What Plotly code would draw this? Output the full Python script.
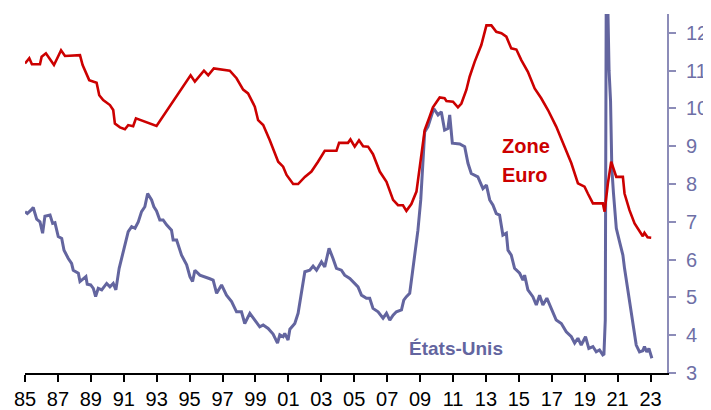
import plotly.graph_objects as go

# Zone Euro unemployment rate (%)
euro_years = [1985.00, 1985.26, 1985.42, 1985.91, 1986.01, 1986.27, 1986.52, 1986.76, 1986.96, 1987.19,
              1987.43, 1988.34, 1988.50, 1988.70, 1988.90, 1989.35, 1989.51, 1989.75, 1990.16, 1990.36,
              1990.46, 1990.77, 1991.07, 1991.27, 1991.57, 1991.74, 1992.99, 1995.06, 1995.32, 1995.87,
              1996.13, 1996.47, 1997.44, 1997.85, 1998.25, 1998.55, 1998.96, 1999.16, 1999.47, 1999.87,
              2000.38, 2000.68, 2000.89, 2001.29, 2001.59, 2002.00, 2002.40, 2002.80, 2003.21, 2003.92,
              2004.08, 2004.62, 2004.77, 2005.03, 2005.29, 2005.54, 2005.84, 2006.14, 2006.55, 2006.96,
              2007.36, 2007.66, 2007.96, 2008.17, 2008.47, 2008.78, 2009.02, 2009.28, 2009.58, 2009.78,
              2010.19, 2010.49, 2010.60, 2011.00, 2011.30, 2011.51, 2011.81, 2012.01, 2012.32, 2012.72,
              2013.03, 2013.33, 2013.63, 2013.94, 2014.24, 2014.54, 2014.85, 2015.15, 2015.55, 2015.96,
              2016.36, 2016.77, 2017.27, 2017.68, 2018.19, 2018.59, 2018.99, 2019.19, 2019.50, 2020.10,
              2020.21, 2020.41, 2020.61, 2020.92, 2021.32, 2021.42, 2021.72, 2022.03, 2022.33, 2022.53,
              2022.63, 2022.82, 2023.04]
euro_values = [11.19, 11.33, 11.17, 11.17, 11.37, 11.46, 11.30, 11.15, 11.33, 11.54,
               11.39, 11.41, 11.15, 10.97, 10.75, 10.68, 10.35, 10.22, 10.09, 9.96,
               9.60, 9.50, 9.45, 9.56, 9.53, 9.74, 9.54, 10.88, 10.71, 11.00,
               10.88, 11.06, 11.00, 10.80, 10.50, 10.40, 10.05, 9.69, 9.56, 9.16,
               8.59, 8.46, 8.24, 8.00, 8.00, 8.19, 8.33, 8.59, 8.88, 8.88,
               9.09, 9.09, 9.18, 8.99, 9.16, 9.00, 8.99, 8.79, 8.33, 8.06,
               7.58, 7.44, 7.44, 7.29, 7.47, 7.80, 8.55, 9.43, 9.78, 10.03,
               10.29, 10.27, 10.20, 10.18, 10.03, 10.13, 10.49, 10.84, 11.24, 11.68,
               12.20, 12.20, 12.03, 11.99, 11.90, 11.59, 11.56, 11.28, 10.97, 10.53,
               10.27, 9.96, 9.52, 9.08, 8.55, 8.02, 7.93, 7.75, 7.49, 7.49,
               7.27, 8.02, 8.59, 8.19, 8.19, 7.75, 7.31, 6.96, 6.74, 6.62,
               6.71, 6.59, 6.58]

# États-Unis unemployment rate (%)
us_years = [1985.00, 1985.14, 1985.41, 1985.50, 1985.71, 1985.91, 1986.07, 1986.21, 1986.52, 1986.68,
            1986.82, 1987.02, 1987.23, 1987.37, 1987.63, 1987.83, 1987.93, 1988.24, 1988.34, 1988.54,
            1988.70, 1988.78, 1988.99, 1989.15, 1989.29, 1989.45, 1989.66, 1989.96, 1990.16, 1990.36,
            1990.52, 1990.72, 1990.97, 1991.27, 1991.48, 1991.68, 1991.88, 1992.08, 1992.28, 1992.45,
            1992.69, 1992.83, 1992.99, 1993.19, 1993.39, 1993.60, 1993.90, 1994.00, 1994.21, 1994.51,
            1994.82, 1995.02, 1995.18, 1995.32, 1995.62, 1995.93, 1996.19, 1996.43, 1996.64, 1996.94,
            1997.24, 1997.55, 1997.85, 1998.15, 1998.35, 1998.66, 1998.96, 1999.26, 1999.47, 1999.77,
            2000.07, 2000.34, 2000.48, 2000.68, 2000.78, 2000.98, 2001.09, 2001.39, 2001.59, 2001.80,
            2002.00, 2002.30, 2002.50, 2002.71, 2003.01, 2003.21, 2003.47, 2003.71, 2003.92, 2004.22,
            2004.42, 2004.73, 2004.93, 2005.23, 2005.44, 2005.74, 2005.94, 2006.14, 2006.45, 2006.75,
            2006.96, 2007.16, 2007.36, 2007.56, 2007.87, 2008.01, 2008.17, 2008.37, 2008.53, 2008.67,
            2008.87, 2009.04, 2009.28, 2009.48, 2009.69, 2009.83, 2010.09, 2010.29, 2010.49, 2010.69,
            2010.80, 2010.96, 2011.41, 2011.71, 2011.91, 2012.11, 2012.51, 2012.82, 2013.03, 2013.23,
            2013.43, 2013.63, 2013.83, 2014.03, 2014.24, 2014.34, 2014.54, 2014.74, 2015.05, 2015.25,
            2015.35, 2015.55, 2015.85, 2016.06, 2016.26, 2016.46, 2016.70, 2016.97, 2017.27, 2017.58,
            2017.88, 2018.19, 2018.39, 2018.59, 2018.79, 2019.05, 2019.25, 2019.50, 2019.70, 2019.90,
            2020.10, 2020.17, 2020.25, 2020.32, 2020.40, 2020.48, 2020.57, 2020.65, 2020.75, 2020.92,
            2021.12, 2021.32, 2021.42, 2021.62, 2021.83, 2022.03, 2022.13, 2022.33, 2022.53, 2022.63,
            2022.77, 2022.90, 2023.08]
us_values = [7.27, 7.22, 7.33, 7.38, 7.07, 7.00, 6.70, 7.15, 7.18, 6.96,
             6.98, 6.61, 6.56, 6.25, 6.03, 5.90, 5.72, 5.64, 5.42, 5.50,
             5.55, 5.35, 5.33, 5.24, 5.02, 5.24, 5.20, 5.37, 5.28, 5.37,
             5.20, 5.77, 6.21, 6.74, 6.87, 6.83, 7.00, 7.27, 7.40, 7.75,
             7.58, 7.40, 7.29, 7.05, 7.05, 6.92, 6.78, 6.52, 6.52, 6.12,
             5.86, 5.55, 5.42, 5.72, 5.59, 5.55, 5.50, 5.46, 5.11, 5.33,
             5.06, 4.89, 4.62, 4.62, 4.31, 4.58, 4.40, 4.22, 4.27, 4.18,
             4.03, 3.79, 4.01, 3.96, 4.05, 3.87, 4.16, 4.31, 4.58, 5.11,
             5.68, 5.72, 5.83, 5.72, 5.94, 5.81, 6.30, 6.03, 5.77, 5.72,
             5.59, 5.50, 5.42, 5.28, 5.06, 4.98, 4.98, 4.71, 4.62, 4.45,
             4.58, 4.40, 4.53, 4.62, 4.67, 4.93, 5.02, 5.11, 5.64, 6.08,
             6.78, 7.58, 9.38, 9.52, 9.78, 10.00, 9.83, 9.91, 9.43, 9.47,
             9.83, 9.08, 9.06, 8.99, 8.55, 8.28, 8.19, 7.88, 7.97, 7.58,
             7.44, 7.22, 7.18, 6.65, 6.70, 6.25, 6.12, 5.77, 5.64, 5.46,
             5.59, 5.20, 5.02, 4.80, 5.06, 4.80, 4.98, 4.71, 4.40, 4.31,
             4.09, 3.96, 3.79, 3.92, 3.74, 3.96, 3.65, 3.70, 3.56, 3.61,
             3.48, 3.50, 4.40, 14.70, 13.20, 11.00, 10.20, 8.40, 7.75, 6.83,
             6.47, 6.12, 5.77, 5.20, 4.49, 3.96, 3.74, 3.56, 3.59, 3.70,
             3.56, 3.65, 3.39]

x_tick_vals = list(range(1985, 2024, 2))
x_tick_text = ["85", "87", "89", "91", "93", "95", "97", "99", "01", "03",
               "05", "07", "09", "11", "13", "15", "17", "19", "21", "23"]
y_tick_vals = [3, 4, 5, 6, 7, 8, 9, 10, 11, 12]

RED = "#cc0000"
PURPLE = "#63659f"
AXIS_PURPLE = "#8c8cb8"
LABEL_PURPLE = "#6e6fa6"
FONT = "Liberation Sans, Arial, sans-serif"

fig = go.Figure()
fig.add_trace(go.Scatter(x=us_years, y=us_values, mode="lines",
                         line=dict(color=PURPLE, width=3), name="États-Unis"))
fig.add_trace(go.Scatter(x=euro_years, y=euro_values, mode="lines",
                         line=dict(color=RED, width=2.6), name="Zone Euro"))

fig.add_annotation(x=2013.83, y=9.0, text="<b>Zone</b>", showarrow=False,
                   xanchor="left", yanchor="middle",
                   font=dict(family=FONT, size=20, color=RED))
fig.add_annotation(x=2013.83, y=8.23, text="<b>Euro</b>", showarrow=False,
                   xanchor="left", yanchor="middle",
                   font=dict(family=FONT, size=20, color=RED))
fig.add_annotation(x=2011.16, y=3.66, text="<b>États-Unis</b>", showarrow=False,
                   xanchor="center", yanchor="middle",
                   font=dict(family=FONT, size=19, color=PURPLE))

# The page body adds an 8px offset, so the figure is 8px smaller on each axis
fig.update_layout(
    width=703, height=402, autosize=False,
    margin=dict(l=17, r=44, t=6, b=37),
    paper_bgcolor="white", plot_bgcolor="white",
    showlegend=False,
    font=dict(family=FONT),
    xaxis=dict(range=[1985, 2024], tickvals=x_tick_vals, ticktext=x_tick_text,
               automargin=False,
               showgrid=False, zeroline=False, showline=True, linecolor="black",
               linewidth=1.5, ticks="outside", ticklen=7, tickcolor="black", tickwidth=1.5,
               ticklabelstandoff=0,
               tickfont=dict(family=FONT, size=20, color="black")),
    yaxis=dict(range=[3, 12.5], side="right", tickvals=y_tick_vals,
               automargin=False,
               showgrid=False, zeroline=False, showline=True, linecolor=AXIS_PURPLE,
               linewidth=2, ticks="outside", ticklen=7, tickcolor=AXIS_PURPLE, tickwidth=1.5,
               ticklabelstandoff=6,
               tickfont=dict(family=FONT, size=20, color=LABEL_PURPLE)),
)

fig.write_html("out.html")
